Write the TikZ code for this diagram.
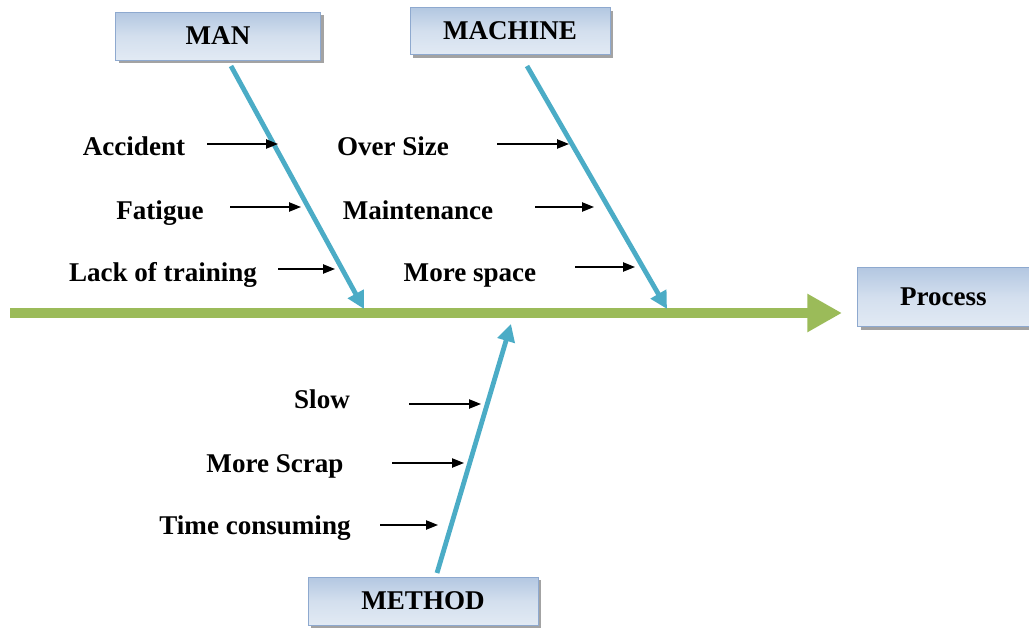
\documentclass[tikz,border=0pt]{standalone}
\usepackage{fontspec}
\setmainfont{Liberation Serif}
\usetikzlibrary{arrows.meta,shadows}
\definecolor{spine}{HTML}{9BBB59}
\definecolor{bone}{HTML}{4BACC6}
\definecolor{boxtop}{HTML}{B3C7E1}
\definecolor{boxmid}{HTML}{D3DFEE}
\definecolor{boxbot}{HTML}{E2EAF4}
\definecolor{boxline}{HTML}{8EA9CF}
\tikzset{
  lbl/.style={font=\bfseries\fontsize{20.3}{24}\selectfont, inner sep=0pt},
  catbox/.style={draw=boxline, line width=0.6pt, top color=boxtop, bottom color=boxbot, middle color=boxmid,
    font=\bfseries\fontsize{20.3}{24}\selectfont, inner sep=0pt,
    drop shadow={shadow xshift=2.5pt, shadow yshift=-2.5pt, fill=black!45, opacity=0.8}},
  bonearrow/.style={draw=bone, line width=3.6pt, -{Triangle[length=13pt,width=13pt]}},
  cause/.style={draw=black, line width=1pt, -{Triangle[length=9pt,width=7pt]}},
}
\begin{document}
\begin{tikzpicture}[x=0.75pt, y=-0.75pt]
\useasboundingbox (0,0) rectangle (1029,628);

% category boxes
\node[catbox, minimum width=205pt*0.75, minimum height=48pt*0.75] (man) at (218,36) {MAN};
\node[catbox, minimum width=200pt*0.75, minimum height=47pt*0.75] (machine) at (510,31) {MACHINE};
\node[catbox, minimum width=230pt*0.75, minimum height=48pt*0.75] (method) at (423,601) {METHOD};
\node[catbox, minimum width=172pt*0.75, minimum height=59pt*0.75, anchor=west] (process) at (857,297) {Process};

% main spine
\coordinate (tail) at (10,313);
\coordinate (head) at (842,313);
\draw[draw=spine, line width=7.5pt, -{Triangle[length=26pt,width=27pt]}] (tail) -- (head);

% bones
\coordinate (manA) at (231,66);   \coordinate (manB) at (364,309);
\coordinate (macA) at (527,66);   \coordinate (macB) at (667,309);
\coordinate (metA) at (437,573);  \coordinate (metB) at (511,324);
\draw[bonearrow] (manA) -- (manB);
\draw[bonearrow] (macA) -- (macB);
\draw[bonearrow] (metA) -- (metB);

% cause labels
\node[lbl] (acc)  at (134,146) {Accident};
\node[lbl] (fat)  at (160,213) {Fatigue};
\node[lbl] (lack) at (163,275) {Lack of training};
\node[lbl] (over) at (393,146) {Over Size};
\node[lbl] (mnt)  at (418,210) {Maintenance};
\node[lbl] (spc)  at (470,276) {More space};
\node[lbl] (slow) at (322,399) {Slow};
\node[lbl] (scr)  at (275,466) {More Scrap};
\node[lbl] (tim)  at (255,528) {Time consuming};

% cause arrows
\coordinate (a1s) at (207,144); \coordinate (a1e) at (278,144);
\coordinate (a2s) at (230,207); \coordinate (a2e) at (301,207);
\coordinate (a3s) at (278,269); \coordinate (a3e) at (335,269);
\coordinate (b1s) at (497,144); \coordinate (b1e) at (569,144);
\coordinate (b2s) at (535,207); \coordinate (b2e) at (594,207);
\coordinate (b3s) at (575,267); \coordinate (b3e) at (635,267);
\coordinate (c1s) at (409,404); \coordinate (c1e) at (481,404);
\coordinate (c2s) at (392,463); \coordinate (c2e) at (464,463);
\coordinate (c3s) at (380,525); \coordinate (c3e) at (438,525);
\foreach \s/\e in {a1s/a1e,a2s/a2e,a3s/a3e,b1s/b1e,b2s/b2e,b3s/b3e,c1s/c1e,c2s/c2e,c3s/c3e}
  \draw[cause] (\s) -- (\e);
\end{tikzpicture}
\end{document}
